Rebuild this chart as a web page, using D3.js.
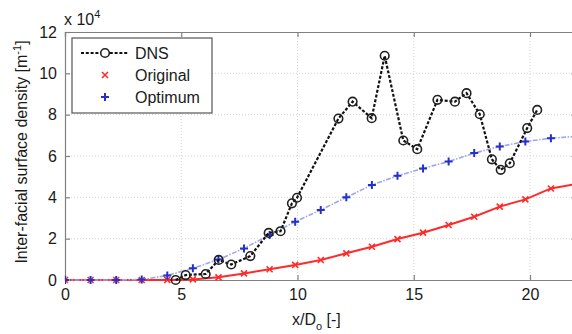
<!DOCTYPE html>
<html><head><meta charset="utf-8">
<script src="https://cdn.jsdelivr.net/npm/d3@7"></script>
<style>body{margin:0;background:#fff;}svg{display:block;font-family:"Liberation Sans",Arial,sans-serif;}</style>
</head><body><svg id="c" width="572" height="334"></svg>
<script>
const xTicks = [0, 5, 10, 15, 20];
const yTicks = [0, 2, 4, 6, 8, 10, 12];
const modelX = [0, 1.1, 2.2, 3.3, 4.4, 5.5, 6.6, 7.7, 8.8, 9.9, 11, 12.1, 13.2, 14.3, 15.4, 16.5, 17.6, 18.7, 19.8, 20.9, 22];
const originalY = [0, 0, 0, 0, 0, 0.03, 0.13, 0.32, 0.52, 0.73, 0.97, 1.29, 1.61, 1.98, 2.29, 2.66, 3.06, 3.55, 3.9, 4.43, 4.65];
const optimumY = [0, 0, 0, 0.02, 0.22, 0.57, 0.99, 1.53, 2.18, 2.82, 3.39, 4.0, 4.6, 5.04, 5.4, 5.73, 6.14, 6.46, 6.7, 6.86, 6.95];
const dnsX = [4.76, 5.19, 6.05, 6.61, 7.15, 7.97, 8.76, 9.27, 9.76, 9.98, 11.76, 12.37, 13.19, 13.75, 14.55, 15.15, 16.02, 16.77, 17.27, 17.84, 18.36, 18.74, 19.13, 19.88, 20.31];
const dnsY = [0, 0.24, 0.29, 0.97, 0.75, 1.16, 2.28, 2.36, 3.71, 3.98, 7.81, 8.63, 7.83, 10.85, 6.75, 6.33, 8.72, 8.63, 9.04, 8.02, 5.84, 5.33, 5.65, 7.35, 8.23];
const seriesNames = ["DNS", "Original", "Optimum"];

const svg = d3.select("#c");
const L = 65, T = 32, R = 576.5, B = 280;
const x = d3.scaleLinear().domain([0, 22]).range([L, R]);
const y = d3.scaleLinear().domain([0, 12]).range([B, T]);
const axisCol = "#808080";

// grid
const g = svg.append("g");
g.selectAll(".gx").data(xTicks.filter(d => d > 0)).enter().append("line")
  .attr("x1", d => x(d)).attr("x2", d => x(d)).attr("y1", T).attr("y2", B)
  .attr("stroke", "#c8c8c8").attr("stroke-width", 0.8).attr("stroke-dasharray", "1,2");
g.selectAll(".gy").data(yTicks.filter(d => d > 0 && d < 12)).enter().append("line")
  .attr("x1", L).attr("x2", R).attr("y1", d => y(d)).attr("y2", d => y(d))
  .attr("stroke", "#c8c8c8").attr("stroke-width", 0.8).attr("stroke-dasharray", "1,2");

// axes
const xAxB = d3.axisBottom(x).tickValues(xTicks).tickSize(-5).tickPadding(9);
const xAxT = d3.axisTop(x).tickValues(xTicks).tickSize(-5).tickFormat("");
const yAxL = d3.axisLeft(y).tickValues(yTicks).tickSize(-5).tickPadding(8);
const yAxR = d3.axisRight(y).tickValues(yTicks).tickSize(-5).tickFormat("");
function style(sel) {
  sel.selectAll("path,line").attr("stroke", axisCol).attr("stroke-width", 1.2);
  sel.selectAll("text").attr("fill", "#1a1a1a").attr("font-size", 16).attr("font-family", "'Liberation Sans',Arial,sans-serif");
}
svg.append("g").attr("transform", `translate(0,${B})`).call(xAxB).call(style);
svg.append("g").attr("transform", `translate(0,${T})`).call(xAxT).call(style);
svg.append("g").attr("transform", `translate(${L},0)`).call(yAxL).call(style);
svg.append("g").attr("transform", `translate(${R},0)`).call(yAxR).call(style);

svg.append("defs").append("clipPath").attr("id", "clip").append("rect")
  .attr("x", L).attr("y", T - 6).attr("width", R - L + 6).attr("height", B - T + 12);
const plot = svg.append("g").attr("clip-path", "url(#clip)");

const line = d3.line().x(d => x(d[0])).y(d => y(d[1]));
const orig = modelX.map((v, i) => [v, originalY[i]]);
const opt = modelX.map((v, i) => [v, optimumY[i]]);
const dns = dnsX.map((v, i) => [v, dnsY[i]]);

const red = "#ff2a2a", blueM = "#2430c8", blueL = "#9fa6f0";

// Original
plot.append("path").datum(orig).attr("d", line).attr("fill", "none").attr("stroke", red).attr("stroke-width", 2);
function xMark(sel, col) {
  sel.append("path").attr("d", "M-3,-3L3,3M-3,3L3,-3").attr("stroke", col).attr("stroke-width", 1.6).attr("fill", "none");
}
function plusMark(sel, col) {
  sel.append("path").attr("d", "M-4,0L4,0M0,-4L0,4").attr("stroke", col).attr("stroke-width", 2).attr("fill", "none");
}
plot.selectAll(".om").data(orig).enter().append("g").attr("transform", d => `translate(${x(d[0])},${y(d[1])})`).call(s => xMark(s, red));

// Optimum
plot.append("path").datum(opt).attr("d", line).attr("fill", "none").attr("stroke", blueL).attr("stroke-width", 1.6).attr("stroke-dasharray", "5,1.5,1.5,1.5");
plot.selectAll(".pm").data(opt).enter().append("g").attr("transform", d => `translate(${x(d[0])},${y(d[1])})`).call(s => plusMark(s, blueM));

// DNS
plot.append("path").datum(dns).attr("d", line).attr("fill", "none").attr("stroke", "#111").attr("stroke-width", 2.2).attr("stroke-dasharray", "3,1.8");
plot.selectAll(".dm").data(dns).enter().append("circle").attr("cx", d => x(d[0])).attr("cy", d => y(d[1])).attr("r", 4.3)
  .attr("fill", "none").attr("stroke", "#222").attr("stroke-width", 1.6);

// legend
const lg = svg.append("g");
lg.append("rect").attr("x", 72).attr("y", 38).attr("width", 140).attr("height", 75).attr("fill", "#fff").attr("stroke", "#555").attr("stroke-width", 1.2);
const ly = [53, 75, 97];
lg.append("line").attr("x1", 81).attr("x2", 129).attr("y1", ly[0]).attr("y2", ly[0]).attr("stroke", "#111").attr("stroke-width", 2.2).attr("stroke-dasharray", "3,1.8");
lg.append("circle").attr("cx", 105).attr("cy", ly[0]).attr("r", 4.3).attr("fill", "#fff").attr("stroke", "#222").attr("stroke-width", 1.6);
lg.append("g").attr("transform", `translate(105,${ly[1]})`).call(s => xMark(s, red));
lg.append("g").attr("transform", `translate(105,${ly[2]})`).call(s => plusMark(s, blueM));
lg.selectAll(".lt").data(seriesNames).enter().append("text").attr("x", 135).attr("y", (d, i) => ly[i] + 6)
  .attr("font-size", 16).attr("fill", "#1a1a1a").text(d => d);

// multiplier
const mt = svg.append("text").attr("x", 64).attr("y", 25).attr("font-size", 16).attr("fill", "#1a1a1a");
mt.append("tspan").text("x 10");
mt.append("tspan").attr("dy", -7).attr("font-size", 11).text("4");

// axis labels
const yl = svg.append("text").attr("transform", "translate(27,152) rotate(-90)").attr("text-anchor", "middle").attr("font-size", 16).attr("fill", "#1a1a1a");
yl.append("tspan").text("Inter-facial surface density [m");
yl.append("tspan").attr("dy", -6).attr("font-size", 11).text("-1");
yl.append("tspan").attr("dy", 6).text("]");
const xl = svg.append("text").attr("x", 292).attr("y", 325).attr("font-size", 16).attr("fill", "#1a1a1a");
xl.append("tspan").text("x/D");
xl.append("tspan").attr("dy", 5).attr("font-size", 11).text("o");
xl.append("tspan").attr("dy", -5).text(" [-]");
</script></body></html>
